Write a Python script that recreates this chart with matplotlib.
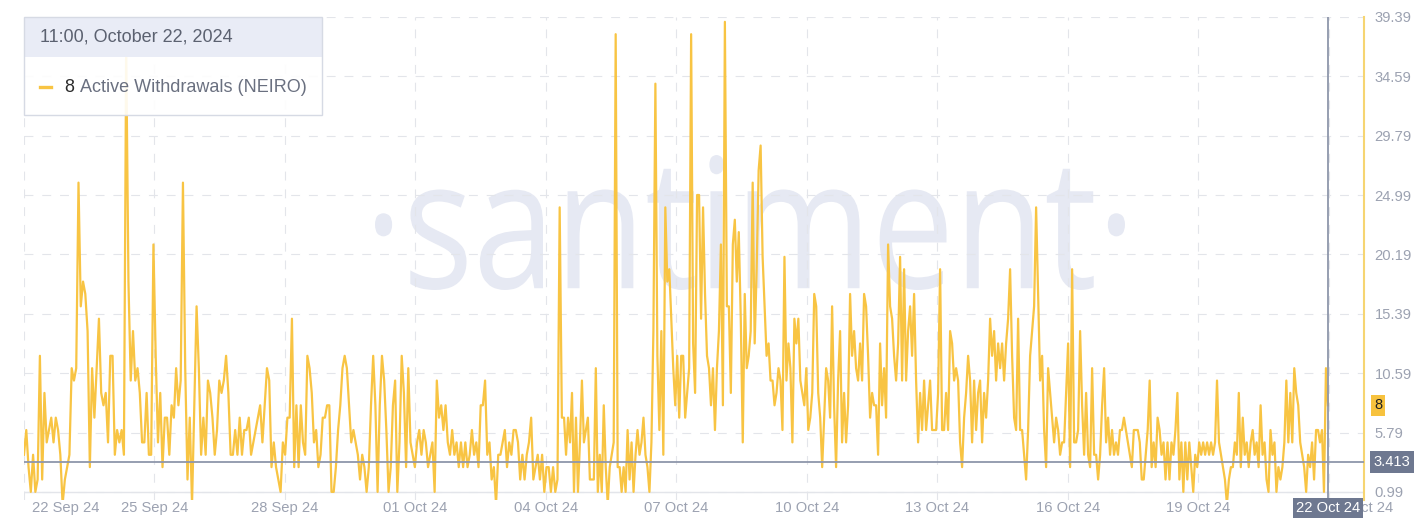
import numpy as np
import pandas as pd
import matplotlib
matplotlib.use("Agg")
import matplotlib.pyplot as plt
from matplotlib.patches import Rectangle, PathPatch
from matplotlib.lines import Line2D
from matplotlib.textpath import TextPath
from matplotlib.font_manager import FontProperties
from matplotlib.transforms import Affine2D, ScaledTranslation

plt.rcParams['font.family'] = ['Liberation Sans', 'DejaVu Sans']

# ---------------- data ----------------
series_name = "Active Withdrawals (NEIRO)"
tooltip_title = "11:00, October 22, 2024"
current_value = 8
mean_value = 3.413
cursor_label = "22 Oct 24"

# segment boundaries (each segment holds values read evenly across its span)
seg_bounds = ["2024-09-22 00:00", "2024-09-28 05:06", "2024-10-04 10:00",
              "2024-10-10 15:00", "2024-10-16 20:00", "2024-10-21 23:30"]

seg_a = [4, 6, 3, 1, 4, 1, 2, 12, 2, 9, 5, 6, 7, 5, 7, 6, 4, 0, 2, 3, 4, 11, 10, 11, 26, 16, 18,
         17, 14, 3, 11, 7, 11, 15, 9, 8, 9, 5, 12, 12, 4, 6, 5, 6, 4, 37, 18, 10, 14, 10, 11, 9,
         5, 5, 9, 4, 4, 21, 12, 5, 9, 3, 7, 7, 4, 8, 7, 11, 8, 10, 26, 11, 2, 7, 0, 8, 16, 11, 4,
         7, 4, 10, 9, 7, 4, 6, 10, 9, 10, 12, 9, 4, 4, 6, 4, 7, 4, 6, 6, 7, 4, 5, 6, 7, 8, 5, 8,
         11, 10, 3, 5, 3, 2, 1, 5, 4, 7, 7, 15]
seg_b = [3, 8, 3, 8, 5, 4, 12, 11, 9, 5, 6, 3, 4, 7, 7, 8, 8, 1, 1, 3, 6, 8, 11, 12, 11, 8, 5,
         6, 5, 4, 2, 4, 3, 1, 3, 8, 12, 8, 1, 8, 12, 10, 6, 1, 3, 8, 10, 1, 5, 12, 9, 3, 11, 5, 4,
         3, 5, 6, 4, 6, 5, 3, 4, 5, 1, 10, 7, 8, 6, 8, 5, 4, 6, 4, 5, 3, 5, 3, 5, 3, 4, 6, 4, 5, 3,
         8, 8, 10, 4, 5, 2, 3, 0, 4, 4, 5, 6, 3, 5, 4, 6, 6, 5, 2, 4, 2, 4, 5, 7, 2, 3, 4, 2, 4, 1,
         3, 3, 1, 3, 1, 2, 24, 7]
seg_c = [7, 4, 7, 5, 9, 1, 7, 1, 5, 10, 5, 6, 7, 2, 2, 2, 11, 1, 4, 1, 8, 3, 0, 3, 4, 5, 38, 3,
         3, 1, 3, 1, 6, 2, 5, 1, 4, 6, 4, 5, 7, 4, 3, 1, 5, 14, 34, 12, 6, 14, 4, 24, 18, 19, 15,
         11, 8, 12, 7, 12, 12, 7, 9, 11, 38, 13, 9, 25, 25, 15, 24, 17, 12, 11, 8, 11, 6, 11, 14,
         21, 8, 39, 16, 16, 9, 21, 23, 18, 22, 15, 5, 17, 11, 12, 14, 26, 13, 19, 27, 29, 20, 16,
         12, 13, 10, 10, 8, 9, 11, 10, 6, 20, 10, 13, 11, 5, 15, 13, 15, 10, 9, 8, 11, 6, 7, 9, 17,
         16, 9, 7, 3, 7, 11, 10, 7, 16]
seg_d = [8, 3, 10, 14, 5, 9, 5, 8, 17, 12, 14, 11, 10, 13, 10, 17, 16, 12, 7, 9, 8, 8, 4, 13, 8,
         11, 7, 21, 16, 15, 12, 10, 13, 20, 10, 19, 10, 14, 16, 12, 17, 10, 5, 9, 6, 10, 6, 8, 10,
         6, 6, 6, 9, 19, 6, 6, 9, 6, 14, 13, 10, 11, 10, 5, 3, 7, 9, 12, 10, 5, 10, 6, 9, 10, 5, 9,
         7, 10, 15, 12, 14, 10, 13, 11, 13, 10, 13, 15, 19, 12, 7, 6, 15, 6, 6, 4, 2, 6, 12, 14,
         16, 24, 17, 10, 12, 6, 3, 11, 9, 7, 5, 7, 6, 4, 5, 5, 9, 13, 3, 19, 5, 5, 6, 14, 8, 4, 9,
         4, 3, 11, 4, 4, 2, 4, 8]
seg_e = [11, 5, 7, 4, 6, 4, 5, 4, 6, 6, 7, 6, 5, 4, 3, 6, 6, 6, 5, 2, 2, 4, 6, 10, 3, 5, 3, 7, 6,
         4, 5, 2, 5, 2, 5, 4, 6, 9, 2, 5, 1, 5, 2, 5, 3, 1, 4, 3, 5, 4, 5, 4, 5, 4, 5, 4, 5, 10, 5,
         4, 3, 2, 0, 2, 3, 3, 5, 4, 9, 3, 7, 4, 5, 3, 5, 6, 4, 5, 3, 8, 4, 5, 2, 1, 6, 4, 5, 1, 3,
         2, 3, 5, 10, 5, 9, 5, 11, 9, 8, 5, 4, 3, 1, 4, 3, 5, 2, 6, 6, 5, 6, 1, 11, 8]

y_ticks = [0.99, 5.79, 10.59, 15.39, 20.19, 24.99, 29.79, 34.59, 39.39]
y_labels = ["0.99", "5.79", "10.59", "15.39", "20.19", "24.99", "29.79", "34.59", "39.39"]
x_ticks = ["2024-09-22", "2024-09-25", "2024-09-28", "2024-10-01", "2024-10-04", "2024-10-07",
           "2024-10-10", "2024-10-13", "2024-10-16", "2024-10-19", "2024-10-22"]
x_labels = ["22 Sep 24", "25 Sep 24", "28 Sep 24", "01 Oct 24", "04 Oct 24", "07 Oct 24",
            "10 Oct 24", "13 Oct 24", "16 Oct 24", "19 Oct 24", "22 Oct 24"]

segments = [seg_a, seg_b, seg_c, seg_d, seg_e]
times, vals = [], []
for i, seg in enumerate(segments):
    t0, t1 = pd.Timestamp(seg_bounds[i]), pd.Timestamp(seg_bounds[i + 1])
    last = i == len(segments) - 1
    ts = pd.date_range(t0, t1, periods=len(seg) + (0 if last else 1))
    if not last:
        ts = ts[:-1]
    times.extend(list(ts))
    vals.extend(seg)
times = pd.DatetimeIndex(times)
vals = np.array(vals, dtype=float)

# ---------------- figure ----------------
W, H = 1424, 528
fig = plt.figure(figsize=(W / 100, H / 100), dpi=100)
fig.patch.set_facecolor('white')

L, R, T, B = 24, 1364, 17, 500
ax = fig.add_axes([L / W, (H - B) / H, (R - L) / W, (B - T) / H])
ax.patch.set_alpha(0)

LINE = '#f8c443'
GRID = '#e3e5ea'
TICKC = '#9ca2b1'
CROSS = '#8e96aa'
BOXC = '#6e7890'

# watermark
fp = FontProperties(family='Open Sans')
tp = TextPath((0, 0), "\u00b7santiment\u00b7", size=100, prop=fp)
ext = tp.get_extents()
x0f, x1f = 375 / W, 1125 / W
y0f, y1f = (H - 290) / H, (H - 155) / H
tr = (Affine2D().translate(-ext.x0, -ext.y0)
      .scale((x1f - x0f) / ext.width, (y1f - y0f) / ext.height)
      .translate(x0f, y0f) + fig.transFigure)
fig.add_artist(PathPatch(tp, transform=tr, fc='#e6e9f3', ec='none', zorder=-1))

ax.plot(times, vals, color=LINE, lw=1.6, solid_joinstyle='round', zorder=3)

ax.set_xlim(pd.Timestamp("2024-09-22 00:00"), pd.Timestamp("2024-10-22 19:24"))
ax.set_ylim(0.343, 39.39)

for s in ['top', 'left', 'bottom']:
    ax.spines[s].set_visible(False)
ax.spines['right'].set_color('#f6d572')
ax.spines['right'].set_linewidth(1.5)

ax.yaxis.tick_right()
ax.set_yticks(y_ticks)
ax.set_yticklabels(y_labels)
ax.set_xticks(pd.to_datetime(x_ticks))
ax.set_xticklabels(x_labels)
ax.tick_params(axis='y', length=0, pad=7.5, labelsize=10.6, labelcolor=TICKC)
ax.tick_params(axis='x', length=0, pad=1, labelsize=10.6, labelcolor=TICKC)
xl = ax.get_xticklabels()
xl[0].set_ha('left')
xl[0].set_transform(xl[0].get_transform() + ScaledTranslation(8 / 100, 0, fig.dpi_scale_trans))
xl[-1].set_ha('left')

ax.grid(True, color=GRID, lw=0.8, linestyle=(0, (8, 8)))
ax.set_axisbelow(True)
ax.axhline(0.99, color=GRID, lw=1.0, zorder=1)

# crosshair
ax.axhline(mean_value, color=CROSS, lw=1.3, zorder=4)
ax.axvline(times[-1], color=CROSS, lw=1.3, zorder=4)

ax.annotate(f"{mean_value:.3f}", xy=(1, mean_value), xycoords=('axes fraction', 'data'),
            xytext=(10, 0), textcoords='offset pixels', ha='left', va='center',
            color='white', fontsize=10.6,
            bbox=dict(boxstyle='square,pad=0.25', fc=BOXC, ec='none'), annotation_clip=False)
ax.annotate(f"{current_value}", xy=(1, vals[-1]), xycoords=('axes fraction', 'data'),
            xytext=(10, 0), textcoords='offset pixels', ha='left', va='center',
            color='#222222', fontsize=10.6,
            bbox=dict(boxstyle='square,pad=0.22', fc='#f7c23e', ec='none'), annotation_clip=False)
ax.annotate(cursor_label, xy=(times[-1], 0), xycoords=('data', 'axes fraction'),
            xytext=(0, -8), textcoords='offset pixels', ha='center', va='center',
            color='white', fontsize=10.6, zorder=10,
            bbox=dict(boxstyle='square,pad=0.22', fc=BOXC, ec='none'), annotation_clip=False)

# tooltip / legend box
def fx(x):
    return x / W

def fy(y):
    return (H - y) / H

fig.add_artist(Rectangle((fx(24), fy(115)), fx(322) - fx(24), fy(57) - fy(115),
                         transform=fig.transFigure, fc='white', ec='none', alpha=0.9, zorder=5))
fig.add_artist(Rectangle((fx(24), fy(57)), fx(322) - fx(24), fy(17) - fy(57),
                         transform=fig.transFigure, fc='#e9ecf6', ec='none', zorder=5))
fig.add_artist(Rectangle((fx(24), fy(115)), fx(322) - fx(24), fy(17) - fy(115),
                         transform=fig.transFigure, fc='none', ec='#d6dae4', lw=1.0, zorder=6))
fig.text(fx(40), fy(37), tooltip_title, ha='left', va='center', fontsize=13,
         color='#5b6170', zorder=7)
fig.add_artist(Line2D([fx(40), fx(51)], [fy(87), fy(87)], transform=fig.transFigure,
                      color=LINE, lw=2.4, zorder=7))
fig.text(fx(64), fy(87), f"{current_value}", ha='left', va='center', fontsize=13,
         color='#2b2b2b', zorder=7)
fig.text(fx(80), fy(87), series_name, ha='left', va='center', fontsize=13,
         color='#6a7080', zorder=7)

fig.savefig("out.png", dpi=100, facecolor='white')
